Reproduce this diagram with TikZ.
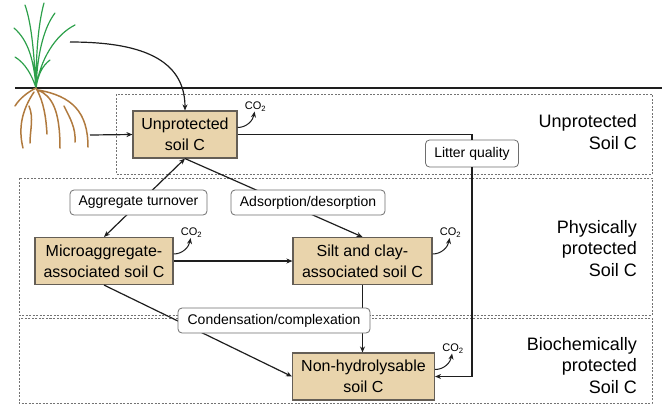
\documentclass[tikz,border=0pt]{standalone}
\usepackage{fontspec}
\setmainfont{Liberation Sans}
\usetikzlibrary{arrows.meta,positioning}
\definecolor{poolfill}{RGB}{233,212,172}
\definecolor{poolline}{RGB}{100,94,86}
\definecolor{boxline}{RGB}{110,110,110}
\definecolor{zoneline}{RGB}{115,115,115}
\definecolor{grass}{RGB}{45,160,75}
\definecolor{rootcol}{RGB}{176,122,62}
\definecolor{inkcol}{RGB}{30,30,30}

\begin{document}
\begin{tikzpicture}[x=1pt,y=-1pt,>={Stealth[length=6pt,width=5pt]},
  pool/.style={draw=poolline,fill=poolfill,line width=1.1pt,align=center,inner sep=2pt,minimum height=47pt,font=\fontsize{16}{21}\selectfont},
  proc/.style={draw=boxline,fill=white,rounded corners=4pt,line width=0.8pt,minimum height=25pt,font=\fontsize{14}{16}\selectfont},
  zone/.style={draw=zoneline,line width=0.8pt,dash pattern=on 2pt off 1.5pt},
  zonetext/.style={anchor=north east,inner sep=0pt,align=right,font=\fontsize{18}{21.5}\selectfont},
  flow/.style={->,line width=1.2pt,draw=inkcol},
  co2/.style={font=\fontsize{11}{12}\selectfont,inner sep=0pt}]
  \useasboundingbox (0,0) rectangle (662,408);
  \draw[zone] (116,94) rectangle (652,174);
  \draw[zone] (19,178) rectangle (652,315);
  \draw[zone] (19,318) rectangle (652,403);
  \draw[line width=1.6pt,inkcol] (15,88) -- (662,88);
  \draw[grass,line width=1.2pt,line cap=round]
    (36,88) .. controls (34,60) and (28,40) .. (14,28)
    (36,88) .. controls (34,55) and (32,25) .. (25,5)
    (36,88) .. controls (36,55) and (38,25) .. (44,3)
    (36,88) .. controls (37,60) and (42,30) .. (55,13)
    (36,88) .. controls (40,60) and (55,35) .. (75,25)
    (36,88) .. controls (38,75) and (42,66) .. (50,60)
    (36,88) .. controls (32,75) and (25,63) .. (15,57);
  \draw[rootcol,line width=1.5pt,line cap=round]
    (36,88) .. controls (28,92) and (20,98) .. (15,106)
    (34,92) .. controls (22,110) and (18,128) .. (23,148)
    (29,106) .. controls (34,118) and (30,130) .. (30,143)
    (36,88) .. controls (44,102) and (46,118) .. (47,134)
    (38,90) .. controls (52,96) and (60,110) .. (60,148)
    (38,90) .. controls (72,96) and (88,112) .. (88,147)
    (64,106) .. controls (70,118) and (76,128) .. (75,142);
  \node[pool,minimum width=104pt] (unp) at (185,134.5) {Unprotected\\soil C};
  \node[pool,minimum width=138pt] (micro) at (104,261) {Microaggregate-\\associated soil C};
  \node[pool,minimum width=139pt] (silt) at (362.5,261) {Silt and clay-\\associated soil C};
  \node[pool,minimum width=142pt] (nonhyd) at (363.5,376.5) {Non-hydrolysable\\soil C};
  \coordinate (shoot) at (70,42);
  \coordinate (roots) at (90,135);
  \draw[flow] (shoot) to[out=0,in=90,looseness=1.1] (unp.north);
  \draw[flow] (roots) -- (unp.west);
  \draw[flow,<->] (micro.north) -- (unp.south);
  \draw[flow] (unp.south) -- (silt.north);
  \draw[flow] (micro.east) -- (silt.west);
  \draw[flow] (micro.south) -- (nonhyd.west);
  \draw[flow] (silt.south) -- (silt.south |- nonhyd.north);
  \node[proc,minimum width=137pt] (turnover) at (138.5,202.5) {Aggregate turnover};
  \node[proc,minimum width=154pt] (sorption) at (308,202.5) {Adsorption/desorption};
  \node[proc,minimum width=192pt] (condense) at (274,320.5) {Condensation/complexation};
  \node[proc,minimum width=93pt,minimum height=27pt] (litter) at (472,153.5) {Litter quality};
  \draw[flow,-] (unp.east) -| (litter.north);
  \draw[flow] (litter.south) |- (nonhyd.east);
  \node[zonetext] (unplabel) at (637,114.5) {Unprotected\\Soil C};
  \node[zonetext] (physlabel) at (637,220) {Physically\\protected\\Soil C};
  \node[zonetext] (biolabel) at (637,337) {Biochemically\\protected\\Soil C};
  \foreach \p in {unp,micro,silt,nonhyd}
    \draw[flow,line width=1pt] ([yshift=7pt]\p.east) to[out=0,in=-100] ++(17,-16)
      node[co2,above,xshift=1pt] (co2\p) {CO\textsubscript{2}};
\end{tikzpicture}
\end{document}
